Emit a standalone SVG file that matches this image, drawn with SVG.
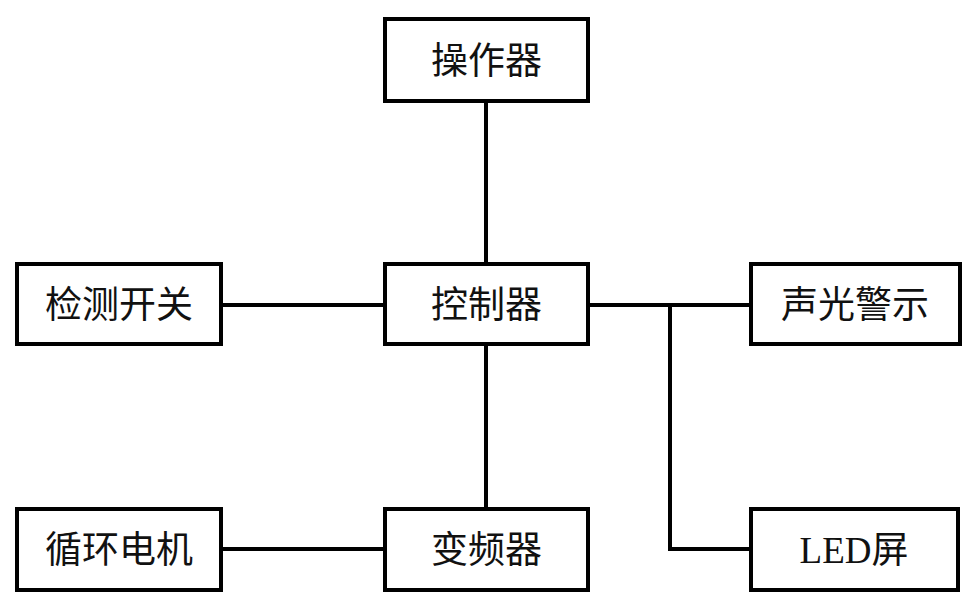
<svg xmlns="http://www.w3.org/2000/svg" width="976" height="611" viewBox="0 0 976 611">
<style>
.box{fill:#fff;stroke:#000;stroke-width:4}
.t{font-family:"Liberation Serif","Noto Sans CJK SC",serif;font-size:37px;fill:#111;text-anchor:middle;dominant-baseline:central}
.c{fill:none;stroke:#000;stroke-width:4}
</style>
<rect width="976" height="611" fill="#fff"/>
<g id="connectors">
<line class="c" x1="486" y1="101" x2="486" y2="264"/>
<line class="c" x1="221" y1="305" x2="385" y2="305"/>
<line class="c" x1="486" y1="344" x2="486" y2="509"/>
<line class="c" x1="221" y1="549" x2="385" y2="549"/>
<line class="c" x1="588" y1="305" x2="751" y2="305"/>
<polyline class="c" points="670,305 670,549 751,549"/>
</g>
<g id="operator"><rect class="box" x="385" y="19" width="203" height="82"/><text class="t" x="486.5" y="61">操作器</text></g>
<g id="detect"><rect class="box" x="17" y="264" width="204" height="80"/><text class="t" x="119" y="305">检测开关</text></g>
<g id="controller"><rect class="box" x="385" y="264" width="203" height="80"/><text class="t" x="486.5" y="305">控制器</text></g>
<g id="alarm"><rect class="box" x="751" y="264" width="209" height="80"/><text class="t" x="855" y="305">声光警示</text></g>
<g id="motor"><rect class="box" x="17" y="509" width="204" height="81"/><text class="t" x="119" y="550">循环电机</text></g>
<g id="inverter"><rect class="box" x="385" y="509" width="203" height="81"/><text class="t" x="486.5" y="550">变频器</text></g>
<g id="led"><rect class="box" x="751" y="509" width="207" height="81"/><text class="t" x="854" y="550">LED屏</text></g>
</svg>
